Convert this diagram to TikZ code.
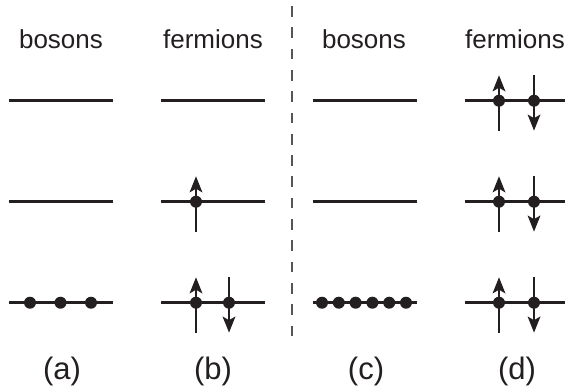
\documentclass[tikz,border=0pt]{standalone}
\usepackage{fontspec}
\setmainfont{Liberation Sans}
\usetikzlibrary{arrows.meta}
\definecolor{ink}{HTML}{231F20}
\definecolor{divgray}{HTML}{555555}
\tikzset{
  level/.style={draw=ink, line width=2.8pt},
  dot/.style={circle, fill=ink, inner sep=0pt, minimum size=12pt},
  spin/.style={draw=ink, line width=2.8pt, -{Stealth[length=16pt,width=12.5pt,inset=3.5pt]}},
  lbl/.style={inner sep=0pt, anchor=base, text=ink, font=\fontsize{26}{31}\selectfont},
  panellbl/.style={inner sep=0pt, anchor=base, text=ink, font=\fontsize{31}{37}\selectfont},
  divider/.style={draw=divgray, line width=1.4pt, dash pattern=on 10.7pt off 10.6pt}
}
\begin{document}
\begin{tikzpicture}[x=1pt,y=-1pt]
\useasboundingbox (0,0) rectangle (565,389);
% headings
\node[lbl] (h1) at (61,48) {bosons};
\node[lbl] (h2) at (213,48) {fermions};
\node[lbl] (h3) at (364,48) {bosons};
\node[lbl] (h4) at (515,48) {fermions};
% bottom labels
\node[panellbl] (la) at (62,379) {(a)};
\node[panellbl] (lb) at (213,379) {(b)};
\node[panellbl] (lc) at (366,379) {(c)};
\node[panellbl] (ld) at (517,379) {(d)};
% divider
\coordinate (dt) at (292,6);
\coordinate (db) at (292,338);
\draw[divider] (dt) -- (db);
% level coordinates
\foreach \c/\cx in {a/61,b/213,c/364.5,d/516.5}{
  \foreach \r/\ry in {1/100.7,2/201.7,3/302.7}{
    \coordinate (\c\r L) at (\cx-52,\ry);
    \coordinate (\c\r R) at (\cx+52,\ry);
  }
}
\foreach \c in {a,b,c,d}{
  \foreach \r in {1,2,3}{
    \draw[level] (\c\r L) -- (\c\r R);
  }
}
% (a) three bosons in ground level
\foreach \i/\dx in {1/-31,2/-0.5,3/30}{
  \node[dot] (ad\i) at (61+\dx,302.7) {};
}
% (c) six bosons in ground level
\foreach \i in {1,...,6}{
  \node[dot] (cd\i) at ({322+(\i-1)*16.8},302.7) {};
}
% fermion pairs
\newcommand{\uparr}[3]{% name, x, y
  \coordinate (#1b) at (#2,#3+30);
  \coordinate (#1t) at (#2,#3-25.5);
  \draw[spin] (#1b) -- (#1t);
  \node[dot] (#1) at (#2,#3) {};
}
\newcommand{\downarr}[3]{%
  \coordinate (#1t) at (#2,#3-25.5);
  \coordinate (#1b) at (#2,#3+30);
  \draw[spin] (#1t) -- (#1b);
  \node[dot] (#1) at (#2,#3) {};
}
% (b)
\uparr{bu2}{196}{201.7}
\uparr{bu3}{196}{302.7}
\downarr{bd3}{229}{302.7}
% (d)
\uparr{du1}{499}{100.7}
\downarr{dd1}{534}{100.7}
\uparr{du2}{499}{201.7}
\downarr{dd2}{534}{201.7}
\uparr{du3}{499}{302.7}
\downarr{dd3}{534}{302.7}
\end{tikzpicture}
\end{document}
